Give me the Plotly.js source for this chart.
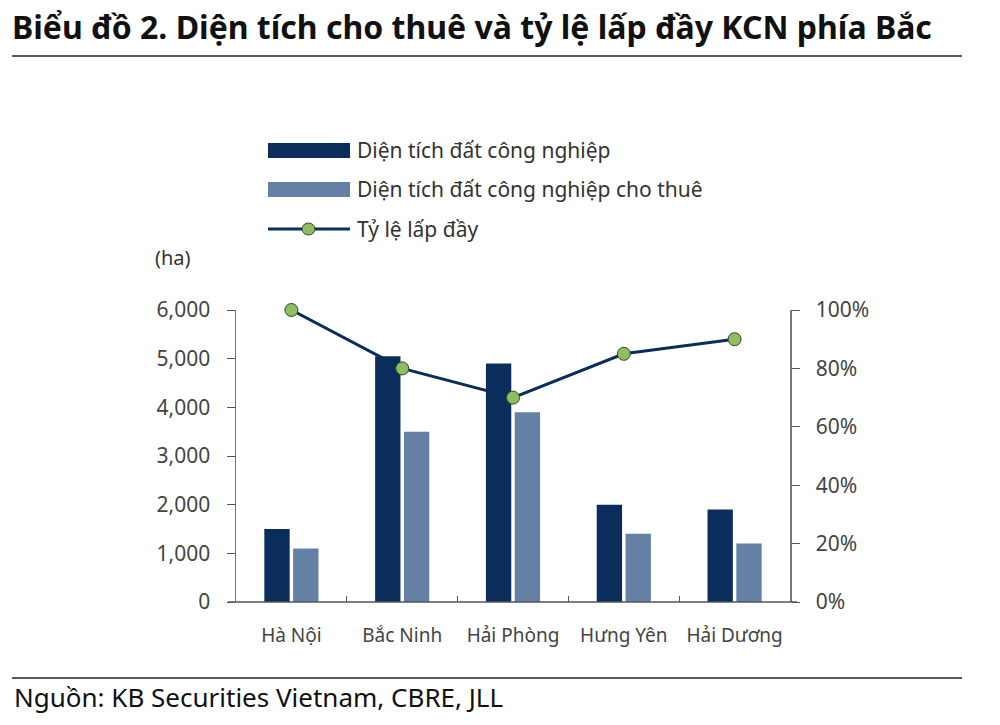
<!DOCTYPE html>
<html>
<head>
<meta charset="utf-8">
<script src="https://cdn.plot.ly/plotly-3.0.1.min.js"></script>
<style>
  html, body { margin: 0; padding: 0; background: #fff; }
  #chart { width: 1000px; height: 725px; }
</style>
</head>
<body>
<div id="chart"></div>
<script>
// data
const provinces = ['Hà Nội', 'Bắc Ninh', 'Hải Phòng', 'Hưng Yên', 'Hải Dương']
const totalArea = [1500, 5050, 4900, 2000, 1900]
const leasedArea = [1100, 3500, 3900, 1400, 1200]
const occupancy = [1.00, 0.80, 0.70, 0.85, 0.90]

const seriesNames = ['Diện tích đất công nghiệp', 'Diện tích đất công nghiệp cho thuê', 'Tỷ lệ lấp đầy']

const DARK = '#0b2d5b'
const LIGHT = '#6580a5'
const GREEN = '#8fbd5f'
const FONT = 'Noto Sans, sans-serif'

// plot area in pixels (used to place the page decorations)
const L = 236, R = 790, T = 310, B = 602
const px = x => (x - L) / (R - L)
const py = y => (B - y) / (B - T)

const data = [{
  type: 'bar',
  x: provinces,
  y: totalArea,
  name: seriesNames[0],
  marker: { color: DARK },
  hoverinfo: 'x+y+name'
}, {
  type: 'bar',
  x: provinces,
  y: leasedArea,
  name: seriesNames[1],
  marker: { color: LIGHT },
  hoverinfo: 'x+y+name'
}, {
  type: 'scatter',
  mode: 'lines+markers',
  x: provinces,
  y: occupancy,
  yaxis: 'y2',
  name: seriesNames[2],
  line: { color: DARK, width: 3 },
  marker: { color: GREEN, size: 13, line: { color: '#2f4a2a', width: 1 } },
  cliponaxis: false
}]

// hand-made legend: wide swatches like the original
const legendRows = [143, 182, 222]
const shapes = [
  { type: 'line', xref: 'paper', yref: 'paper', x0: px(12), x1: px(962), y0: py(56), y1: py(56), line: { color: '#222', width: 1.5 } },
  { type: 'line', xref: 'paper', yref: 'paper', x0: px(12), x1: px(962), y0: py(678), y1: py(678), line: { color: '#222', width: 1.5 } },
  // baseline runs a little past both value axes
  { type: 'line', xref: 'paper', yref: 'paper', x0: px(228), x1: px(797), y0: 0, y1: 0, line: { color: '#555', width: 1.5 } },
  { type: 'rect', xref: 'paper', yref: 'paper', x0: px(268), x1: px(350), y0: py(legendRows[0]), y1: py(legendRows[0] + 15), fillcolor: DARK, line: { width: 0 } },
  { type: 'rect', xref: 'paper', yref: 'paper', x0: px(268), x1: px(350), y0: py(legendRows[1]), y1: py(legendRows[1] + 15), fillcolor: LIGHT, line: { width: 0 } },
  { type: 'line', xref: 'paper', yref: 'paper', x0: px(268), x1: px(350), y0: py(legendRows[2] + 7), y1: py(legendRows[2] + 7), line: { color: DARK, width: 3 } },
  { type: 'circle', xref: 'paper', yref: 'paper', x0: px(302), x1: px(315), y0: py(legendRows[2] + 1), y1: py(legendRows[2] + 13), fillcolor: GREEN, line: { color: '#2f4a2a', width: 1 } }
]

const annotations = seriesNames.map((name, i) => ({
  text: name, xref: 'paper', yref: 'paper', x: px(355), y: py(legendRows[i] + 7),
  xanchor: 'left', yanchor: 'middle', showarrow: false,
  font: { family: FONT, size: 21, color: '#333' }
}))
annotations.push({
  text: '(ha)', xref: 'paper', yref: 'paper', x: px(153), y: py(257),
  xanchor: 'left', yanchor: 'middle', showarrow: false,
  font: { family: FONT, size: 20, color: '#333' }
})
annotations.push({
  text: 'Nguồn: KB Securities Vietnam, CBRE, JLL', xref: 'paper', yref: 'paper', x: px(12), y: py(697),
  xanchor: 'left', yanchor: 'middle', showarrow: false,
  font: { family: FONT, size: 26, color: '#111' }
})

const tickFont = { family: FONT, size: 21, color: '#444' }

const layout = {
  width: 1000,
  height: 725,
  margin: { l: L, r: 1000 - R, t: T, b: 725 - B },
  paper_bgcolor: '#fff',
  plot_bgcolor: '#fff',
  showlegend: false,
  barmode: 'group',
  bargap: 0.48,
  bargroupgap: 0.12,
  font: { family: FONT, size: 19, color: '#333' },
  title: {
    text: '<b>Biểu đồ 2. Diện tích cho thuê và tỷ lệ lấp đầy KCN phía Bắc</b>',
    xref: 'container', yref: 'container', x: 0.012, xanchor: 'left', y: 1 - 28 / 725, yanchor: 'middle',
    font: { family: FONT, size: 32, color: '#111' }
  },
  xaxis: {
    showline: false,
    ticks: 'inside', tickson: 'boundaries', ticklen: 6, tickcolor: '#555',
    tickangle: 0,
    ticklabelstandoff: 20,
    showgrid: false, zeroline: false,
    tickfont: { family: FONT, size: 19, color: '#444' }
  },
  yaxis: {
    range: [0, 6000], dtick: 1000, tickformat: ',d',
    showline: true, linecolor: '#777', linewidth: 1.5,
    ticks: 'outside', ticklen: 8, tickcolor: '#555',
    ticklabelstandoff: 12,
    showgrid: false, zeroline: false,
    tickfont: tickFont
  },
  yaxis2: {
    overlaying: 'y', side: 'right',
    range: [0, 1], dtick: 0.2, tickformat: '.0%',
    showline: true, linecolor: '#777', linewidth: 1.5,
    ticks: 'outside', ticklen: 8, tickcolor: '#555',
    ticklabelstandoff: 12,
    showgrid: false, zeroline: false,
    tickfont: tickFont
  },
  shapes: shapes,
  annotations: annotations
}

Plotly.newPlot('chart', data, layout, { displayModeBar: false, staticPlot: true })
</script>
</body>
</html>
